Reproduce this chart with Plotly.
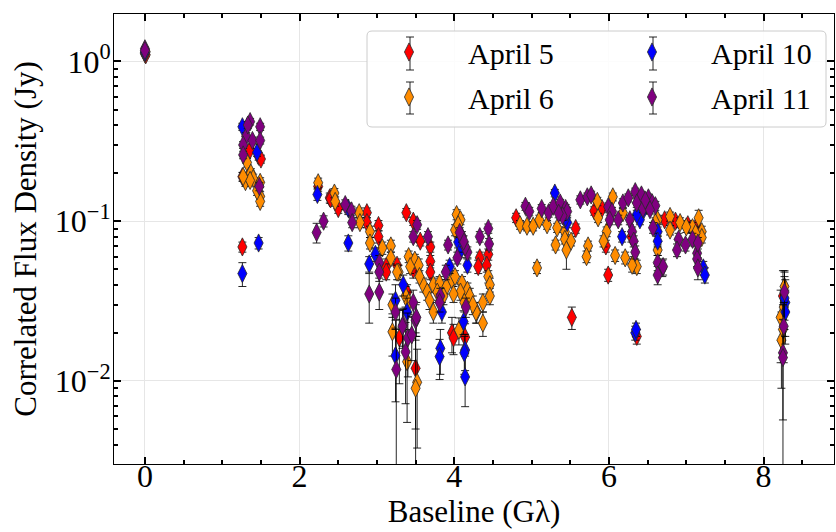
import plotly.graph_objects as go

# ---------------- data ----------------
# April 5 (red)
apr5_baseline = [0.00, 0.01,
                 1.26, 1.36, 1.47, 1.50, 1.26,
                 2.24, 2.39, 2.40, 2.50, 2.87, 2.87, 3.02, 3.02, 3.12, 3.12, 3.26, 3.29, 3.39, 3.50,
                 3.38, 3.47, 3.56, 3.69, 3.69, 3.69, 3.47, 3.97, 3.99, 4.14, 4.33, 4.31, 4.44, 4.42,
                 4.80, 5.57, 5.81, 5.91, 5.96, 5.52, 5.99, 6.36, 6.29, 6.72, 6.86, 7.02, 7.12, 7.18,
                 8.25]
apr5_flux = [1.13, 1.10,
             0.19, 0.28, 0.255, 0.245, 0.069,
             0.165, 0.14, 0.138, 0.12, 0.113, 0.098, 0.094, 0.080, 0.052, 0.048, 0.053, 0.0186, 0.036, 0.012,
             0.113, 0.100, 0.075, 0.069, 0.056, 0.048, 0.050, 0.020, 0.0186, 0.0188, 0.059, 0.052, 0.062, 0.053,
             0.105, 0.090, 0.116, 0.120, 0.070, 0.025, 0.046, 0.019, 0.080, 0.102, 0.100, 0.095, 0.091, 0.085,
             0.034]
apr5_err = [0.03, 0.03,
            0.012, 0.015, 0.014, 0.014, 0.005,
            0.011, 0.010, 0.009, 0.008, 0.008, 0.007, 0.007, 0.007, 0.006, 0.005, 0.005, 0.009, 0.004, 0.007,
            0.007, 0.006, 0.005, 0.005, 0.005, 0.005, 0.006, 0.005, 0.004, 0.004, 0.005, 0.005, 0.005, 0.005,
            0.007, 0.006, 0.007, 0.007, 0.006, 0.004, 0.004, 0.002, 0.006, 0.006, 0.006, 0.006, 0.006, 0.006,
            0.015]

# April 6 (orange)
apr6_baseline = [0.00, 0.01,
                 1.32, 1.30, 1.34, 1.37, 1.40, 1.36, 1.49, 1.49, 1.49, 1.45, 1.27,
                 2.24, 2.45, 2.46, 2.77, 2.78, 2.91, 2.91, 3.07, 3.18, 3.18, 3.28, 3.37, 3.20, 3.41, 3.20, 3.39, 3.52, 3.50,
                 3.41, 3.49, 3.54, 3.43, 3.26, 3.60, 3.73, 3.81, 3.90, 3.97, 4.03, 4.08, 4.01, 4.05, 4.01, 4.10, 4.17, 4.08,
                 4.20, 3.99, 3.73, 4.29, 4.44, 4.46, 4.46, 4.37, 4.06, 4.37, 4.28, 3.65, 3.78, 3.86, 4.13, 4.24, 3.55, 3.68,
                 4.85, 4.94, 5.02, 5.10, 5.20, 5.33, 5.43, 5.31, 5.43, 5.51, 5.45, 5.07, 5.85, 5.86, 5.97, 5.93, 5.73, 5.71,
                 6.08, 6.05, 6.18, 6.63, 6.79, 6.79, 6.92, 7.08, 7.16, 7.20, 7.20, 6.60, 6.63, 6.21, 6.32, 6.36, 6.30, 7.00, 7.12,
                 8.22, 8.23, 8.27, 8.26, 8.25]
apr6_flux = [1.12, 1.15,
             0.233, 0.177, 0.19, 0.20, 0.185, 0.18, 0.175, 0.143, 0.133, 0.155, 0.19,
             0.174, 0.15, 0.133, 0.113, 0.098, 0.086, 0.073, 0.068, 0.070, 0.059, 0.048, 0.034, 0.030, 0.031, 0.0203, 0.0132, 0.0098, 0.0090,
             0.060, 0.057, 0.053, 0.052, 0.048, 0.040, 0.040, 0.041, 0.039, 0.043, 0.110, 0.102, 0.088, 0.095, 0.045, 0.041, 0.037, 0.036,
             0.034, 0.035, 0.027, 0.027, 0.045, 0.040, 0.034, 0.031, 0.0208, 0.023, 0.027, 0.036, 0.036, 0.034, 0.031, 0.030, 0.045, 0.032,
             0.095, 0.093, 0.093, 0.102, 0.095, 0.091, 0.086, 0.071, 0.077, 0.075, 0.066, 0.051, 0.133, 0.105, 0.086, 0.075, 0.070, 0.060,
             0.061, 0.142, 0.113, 0.102, 0.107, 0.088, 0.098, 0.091, 0.105, 0.086, 0.079, 0.098, 0.066, 0.059, 0.055, 0.052, 0.053, 0.092, 0.084,
             0.025, 0.018, 0.039, 0.029, 0.021]
apr6_err = [0.03, 0.03,
            0.015, 0.012, 0.012, 0.013, 0.012, 0.012, 0.012, 0.010, 0.009, 0.010, 0.012,
            0.012, 0.010, 0.009, 0.008, 0.007, 0.007, 0.006, 0.006, 0.006, 0.005, 0.005, 0.005, 0.005, 0.005, 0.006, 0.0077, 0.006, 0.011,
            0.005, 0.005, 0.005, 0.005, 0.005, 0.004, 0.004, 0.004, 0.004, 0.004, 0.008, 0.007, 0.007, 0.007, 0.004, 0.004, 0.004, 0.004,
            0.004, 0.004, 0.004, 0.004, 0.004, 0.004, 0.004, 0.004, 0.004, 0.004, 0.004, 0.004, 0.004, 0.004, 0.004, 0.004, 0.004, 0.004,
            0.006, 0.006, 0.006, 0.007, 0.006, 0.006, 0.006, 0.005, 0.005, 0.005, 0.016, 0.004, 0.008, 0.007, 0.006, 0.006, 0.005, 0.005,
            0.005, 0.008, 0.007, 0.007, 0.007, 0.006, 0.007, 0.007, 0.012, 0.007, 0.006, 0.007, 0.005, 0.005, 0.005, 0.005, 0.005, 0.007, 0.007,
            0.012, 0.009, 0.010, 0.008, 0.006]

# April 10 (blue)
apr10_baseline = [0.00,
                  1.26, 1.45, 1.47, 1.26,
                  2.23, 2.63, 2.63, 2.98, 2.90, 3.24, 3.39, 3.24, 3.34,
                  3.94, 4.05, 4.17, 3.84, 3.82, 3.81, 4.14, 4.13, 4.14, 4.12, 4.08,
                  5.30, 5.46, 5.44, 6.40, 6.17, 6.63, 6.63, 7.22, 7.24, 6.34, 6.35, 6.36, 6.45,
                  8.28, 8.28, 8.27]
apr10_flux = [1.14,
              0.39, 0.27, 0.073, 0.047,
              0.147, 0.12, 0.073, 0.062, 0.054, 0.032, 0.027, 0.0144, 0.040,
              0.052, 0.074, 0.053, 0.027, 0.016, 0.0142, 0.0156, 0.015, 0.0106, 0.0235, 0.065,
              0.150, 0.098, 0.105, 0.102, 0.080, 0.086, 0.075, 0.051, 0.046, 0.020, 0.021, 0.110, 0.118,
              0.031, 0.027, 0.033]
apr10_err = [0.03,
             0.020, 0.015, 0.006, 0.008,
             0.012, 0.010, 0.008, 0.006, 0.006, 0.008, 0.006, 0.007, 0.006,
             0.005, 0.006, 0.005, 0.004, 0.005, 0.004, 0.004, 0.004, 0.0037, 0.004, 0.006,
             0.008, 0.007, 0.007, 0.007, 0.006, 0.006, 0.006, 0.005, 0.005, 0.002, 0.002, 0.007, 0.007,
             0.012, 0.010, 0.012]

# April 11 (purple)
apr11_baseline = [0.00, 0.00,
                  1.36, 1.49, 1.31, 1.39, 1.49, 1.27, 1.27, 1.48, 1.33,
                  2.59, 2.67, 2.68, 2.31, 2.22, 3.03, 3.03, 2.90, 3.03, 3.24, 3.25, 3.34, 3.37, 3.40, 3.45, 3.50, 3.47, 3.51, 3.33,
                  3.52, 3.47, 3.66, 3.92, 3.89, 4.10, 4.17, 4.04, 4.14, 3.82, 3.81, 4.15, 4.33, 4.44, 4.45, 4.12, 4.07,
                  4.92, 4.97, 5.13, 5.22, 5.28, 5.37, 5.44, 5.46, 5.40, 5.35, 5.63, 5.72, 5.77, 5.99, 6.04,
                  6.01, 6.18, 6.34, 6.42, 6.36, 6.51, 6.56, 6.44, 6.12, 6.27, 6.57, 6.90, 6.99, 6.88, 7.08,
                  7.14, 7.14, 7.15, 7.15, 6.63, 6.69, 6.63, 6.30, 6.32, 6.34, 6.70, 6.47, 6.60, 6.53, 6.25,
                  8.27, 8.26, 8.25, 8.25]
apr11_flux = [1.20, 1.17,
              0.42, 0.39, 0.34, 0.32, 0.32, 0.30, 0.26, 0.165, 0.40,
              0.127, 0.116, 0.098, 0.100, 0.085, 0.055, 0.048, 0.035, 0.036, 0.027, 0.0118, 0.0225, 0.0152, 0.0186, 0.0194, 0.024, 0.031, 0.025, 0.022,
              0.095, 0.080, 0.080, 0.071, 0.048, 0.080, 0.064, 0.059, 0.069, 0.034, 0.031, 0.029, 0.080, 0.090, 0.072, 0.075, 0.085,
              0.124, 0.115, 0.120, 0.113, 0.124, 0.130, 0.120, 0.115, 0.108, 0.112, 0.136, 0.142, 0.146, 0.123, 0.115,
              0.102, 0.130, 0.153, 0.146, 0.130, 0.140, 0.130, 0.120, 0.102, 0.102, 0.091, 0.077, 0.071, 0.066, 0.077,
              0.063, 0.058, 0.051, 0.073, 0.055, 0.051, 0.046, 0.086, 0.075, 0.064, 0.052, 0.135, 0.125, 0.118, 0.140,
              0.036, 0.022, 0.015, 0.014]
apr11_err = [0.03, 0.03,
             0.020, 0.020, 0.018, 0.016, 0.016, 0.015, 0.014, 0.010, 0.020,
             0.009, 0.008, 0.007, 0.008, 0.012, 0.006, 0.006, 0.012, 0.008, 0.006, 0.0125, 0.006, 0.008, 0.008, 0.006, 0.006, 0.006, 0.006, 0.006,
             0.006, 0.006, 0.006, 0.005, 0.005, 0.006, 0.005, 0.005, 0.005, 0.004, 0.004, 0.004, 0.006, 0.006, 0.006, 0.006, 0.006,
             0.007, 0.007, 0.007, 0.007, 0.007, 0.007, 0.007, 0.007, 0.007, 0.007, 0.008, 0.008, 0.008, 0.007, 0.007,
             0.007, 0.008, 0.008, 0.008, 0.008, 0.008, 0.008, 0.007, 0.007, 0.007, 0.007, 0.007, 0.006, 0.006, 0.007,
             0.006, 0.006, 0.008, 0.006, 0.006, 0.006, 0.006, 0.006, 0.006, 0.006, 0.006, 0.008, 0.008, 0.007, 0.008,
             0.012, 0.009, 0.0093, 0.016]

day_names = ["April 5", "April 6", "April 10", "April 11"]
day_colors = ["#ff0000", "#ff8c00", "#0000ff", "#800080"]

y_tickvals = [0.01, 0.1, 1]
y_ticktext = ["10<sup>−2</sup>", "10<sup>−1</sup>", "10<sup>0</sup>"]

# ---------------- figure ----------------
FONT = "Liberation Serif"
W, H = 836, 532
L, R, T, B = 114, 2, 14, 68
PW, PH = W - L - R, H - T - B


def px2paper(px, py):
    return (px - L) / PW, (H - B - py) / PH


series = [
    (apr5_baseline, apr5_flux, apr5_err),
    (apr6_baseline, apr6_flux, apr6_err),
    (apr10_baseline, apr10_flux, apr10_err),
    (apr11_baseline, apr11_flux, apr11_err),
]
legend_ids = ["legend", "legend2", "legend3", "legend4"]

fig = go.Figure()
for (bx, fy, ee), name, col, lid in zip(series, day_names, day_colors, legend_ids):
    fig.add_trace(go.Scatter(
        x=bx, y=fy, mode="markers", name=name, legend=lid,
        marker=dict(symbol="diamond-tall", size=13, color=col,
                    line=dict(color="rgba(40,40,40,0.8)", width=1)),
        error_y=dict(type="data", array=ee, visible=True,
                     color="rgba(0,0,0,0.85)", thickness=1, width=4),
    ))

axis_common = dict(
    showline=True, linecolor="black", linewidth=1, mirror="allticks",
    ticks="inside", ticklen=7, tickwidth=2, tickcolor="black",
    showgrid=True, gridcolor="#e6e6e6", gridwidth=1, zeroline=False,
    tickfont=dict(family=FONT, size=32, color="black"), automargin=False,
)

fig.update_xaxes(
    range=[-0.4, 8.91], tick0=0, dtick=2, ticklabelstandoff=-16,
    minor=dict(dtick=0.5, ticks="inside", ticklen=4, tickwidth=1.5,
               tickcolor="black", showgrid=False),
    title=dict(text="Baseline (Gλ)", font=dict(family=FONT, size=31, color="black"), standoff=0),
    **axis_common,
)
minor_y = [k * 10 ** e for e in (-3, -2, -1) for k in range(2, 10)] + [2]
fig.update_yaxes(
    type="log", range=[-2.52, 0.297], ticklabelstandoff=-4,
    tickmode="array", tickvals=y_tickvals, ticktext=y_ticktext,
    minor=dict(tickmode="array", tickvals=minor_y, ticks="inside", ticklen=4,
               tickwidth=1.5, tickcolor="black", showgrid=False),
    title=dict(text="Correlated Flux Density (Jy)", font=dict(family=FONT, size=31, color="black"), standoff=8),
    **axis_common,
)

# legend box (rounded) + error-bar glyphs
bx0, by0 = px2paper(367, 127)
bx1, by1 = px2paper(826, 31)
rx, ry = 5 / PW, 5 / PH
path = (f"M{bx0+rx},{by0} L{bx1-rx},{by0} Q{bx1},{by0} {bx1},{by0+ry} "
        f"L{bx1},{by1-ry} Q{bx1},{by1} {bx1-rx},{by1} L{bx0+rx},{by1} "
        f"Q{bx0},{by1} {bx0},{by1-ry} L{bx0},{by0+ry} Q{bx0},{by0} {bx0+rx},{by0} Z")
shapes = [dict(type="path", path=path, xref="paper", yref="paper",
               line=dict(color="#cccccc", width=1), fillcolor="rgba(255,255,255,0.85)", layer="above")]

legend_cols = [410, 653]
legend_rows = [(37, 70), (82, 114)]
for cx in legend_cols:
    for (ya, yb) in legend_rows:
        x, y1 = px2paper(cx, ya)
        _, y2 = px2paper(cx, yb)
        cw = 4 / PW
        for seg in [(x, y1, x, y2), (x - cw, y1, x + cw, y1), (x - cw, y2, x + cw, y2)]:
            shapes.append(dict(type="line", xref="paper", yref="paper",
                               x0=seg[0], y0=seg[1], x1=seg[2], y1=seg[3],
                               line=dict(color="rgba(0,0,0,0.85)", width=1), layer="above"))

leg_font = dict(family=FONT, size=30, color="black")
leg_pos = {"legend": (350, 52), "legend2": (350, 97), "legend3": (593, 52), "legend4": (593, 97)}
layout_leg = {}
for lid, (lx, ly) in leg_pos.items():
    xp, yp = px2paper(lx, ly)
    layout_leg[lid] = dict(x=xp, y=yp, xanchor="left", yanchor="middle",
                           bgcolor="rgba(0,0,0,0)", borderwidth=0, font=leg_font,
                           itemwidth=108, itemsizing="trace")

fig.update_layout(
    width=W, height=H, margin=dict(l=L, r=R, t=T, b=B),
    paper_bgcolor="white", plot_bgcolor="white",
    font=dict(family=FONT, size=29, color="black"),
    shapes=shapes, showlegend=True, **layout_leg,
)

fig.write_html("out.html", config={"displayModeBar": False},
               post_script="document.body.style.margin='0px';")
